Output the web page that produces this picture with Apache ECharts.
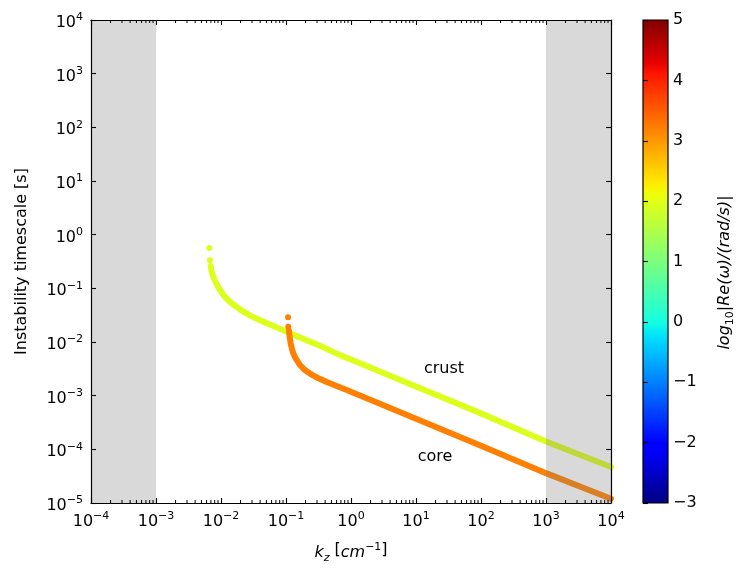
<!DOCTYPE html>
<html><head><meta charset="utf-8">
<script src="https://cdn.jsdelivr.net/npm/echarts@6/dist/echarts.min.js"></script>
<style>html,body{margin:0;padding:0;background:#fff}#c{width:748px;height:572px}</style>
</head><body><div id="c"></div>
<script>
// ---- data ----
const crustDots = [[0.00661, 0.565], [0.00677, 0.333]];
const crustCurve = [[0.00695, 0.26], [0.00710, 0.215], [0.00734, 0.185], [0.00770, 0.158], [0.00809, 0.138],
  [0.00880, 0.113], [0.00966, 0.093], [0.0108, 0.076], [0.01225, 0.064], [0.0150, 0.051], [0.0196, 0.0405],
  [0.0280, 0.031], [0.0398, 0.0255], [0.0600, 0.0205], [0.0809, 0.0177], [0.150, 0.0127], [0.333, 0.0085],
  [0.678, 0.0057], [1, 0.0047], [10, 0.00148], [100, 0.000468], [1000, 0.000140], [10000, 0.0000468]];
const coreDots = [[0.1074, 0.0289], [0.1084, 0.0193]];
const coreCurve = [[0.111, 0.01625], [0.1135, 0.0128], [0.118, 0.00946], [0.123, 0.0075], [0.1295, 0.00615],
  [0.140, 0.0050], [0.164, 0.00373], [0.195, 0.0030], [0.234, 0.00258], [0.310, 0.00213], [0.423, 0.00180],
  [0.859, 0.00128], [10, 0.000372], [100, 0.000117], [1000, 0.000036], [10000, 0.0000120]];
const crustLogOmega = 1.94;
const coreLogOmega = 3.2;
const shadedK = [[1e-4, 1e-3], [1e3, 1e4]];
const textLabels = [{ name: 'crust', value: [27, 3.1e-3] }, { name: 'core', value: [19.6, 7.2e-5] }];
const colorbarRange = [-3, 5];
const xRange = [1e-4, 1e4];
const yRange = [1e-5, 1e4];

// ---- helpers ----
function interp(pts, t) {
  for (let i = 0; i < pts.length - 1; i++) {
    if (t >= pts[i][0] && t <= pts[i + 1][0]) {
      const f = (t - pts[i][0]) / (pts[i + 1][0] - pts[i][0]);
      return pts[i][1] + f * (pts[i + 1][1] - pts[i][1]);
    }
  }
  return pts[pts.length - 1][1];
}
function jet(t) {
  const r = interp([[0, 0], [0.35, 0], [0.66, 1], [0.89, 1], [1, 0.5]], t);
  const g = interp([[0, 0], [0.125, 0], [0.375, 1], [0.64, 1], [0.91, 0], [1, 0]], t);
  const b = interp([[0, 0.5], [0.11, 1], [0.34, 1], [0.65, 0], [1, 0]], t);
  return 'rgb(' + Math.round(r * 255) + ',' + Math.round(g * 255) + ',' + Math.round(b * 255) + ')';
}
function jetVal(v) { return jet((v - colorbarRange[0]) / (colorbarRange[1] - colorbarRange[0])); }
const crustColor = jetVal(crustLogOmega);
const coreColor = jetVal(coreLogOmega);
const gradStops = [];
for (let i = 0; i <= 64; i++) gradStops.push({ offset: i / 64, color: jet(i / 64) });

const minorTicks = [];
for (let d = -4; d < 4; d++) for (let m = 2; m <= 9; m++) minorTicks.push(m * Math.pow(10, d));

const FONT = 'DejaVu Sans';
const FS = 16, FSS = 11;
function expLabel(v) {
  const e = Math.round(Math.log10(v));
  return '{b|10}{s|' + String(e).replace('-', '\u2212') + '}';
}
const richTick = {
  b: { fontSize: FS, fontFamily: FONT, color: '#000', lineHeight: 22, verticalAlign: 'bottom' },
  s: { fontSize: FSS, fontFamily: FONT, color: '#000', lineHeight: 22, verticalAlign: 'bottom', padding: [0, 0, 8, 0] }
};
const axisCommon = {
  type: 'log', logBase: 10, z: 10,
  axisLine: { show: true, lineStyle: { color: '#000', width: 1.2 } },
  axisTick: { show: true, inside: true, length: 5, lineStyle: { color: '#000', width: 1.1 } },
  splitLine: { show: false }, minorTick: { show: false }
};

const chart = echarts.init(document.getElementById('c'), null, { renderer: 'canvas' });
chart.setOption({
  animation: false,
  backgroundColor: '#fff',
  grid: [
    { left: 91, top: 20, width: 520, height: 483 },
    { left: 643, top: 20, width: 25, height: 483 }
  ],
  xAxis: [
    Object.assign({}, axisCommon, {
      gridIndex: 0, position: 'bottom', min: xRange[0], max: xRange[1], splitNumber: 8,
      axisLabel: { formatter: expLabel, rich: richTick, margin: 5 },
      name: '{i|k}{sub|z} [{i|cm}{sup|\u22121}]', nameLocation: 'middle', nameGap: 36,
      nameTextStyle: {
        rich: {
          i: { fontSize: FS, fontFamily: FONT, fontStyle: 'italic', color: '#000', lineHeight: 22, verticalAlign: 'bottom' },
          sub: { fontSize: FSS, fontFamily: FONT, fontStyle: 'italic', color: '#000', lineHeight: 22, verticalAlign: 'bottom', padding: [0, 0, -3, 0] },
          sup: { fontSize: FSS, fontFamily: FONT, color: '#000', lineHeight: 22, verticalAlign: 'bottom', padding: [0, 0, 8, 0] }
        },
        fontSize: FS, fontFamily: FONT, color: '#000'
      }
    }),
    Object.assign({}, axisCommon, {
      gridIndex: 0, position: 'top', min: xRange[0], max: xRange[1], splitNumber: 8,
      axisLabel: { show: false }
    }),
    { gridIndex: 1, type: 'value', min: 0, max: 1, show: false }
  ],
  yAxis: [
    Object.assign({}, axisCommon, {
      gridIndex: 0, position: 'left', min: yRange[0], max: yRange[1], splitNumber: 9,
      axisLabel: { formatter: expLabel, rich: richTick, margin: 8 },
      name: 'Instability timescale [s]', nameLocation: 'middle', nameGap: 61, nameRotate: 90,
      nameTextStyle: { fontSize: FS, fontFamily: FONT, color: '#000' }
    }),
    Object.assign({}, axisCommon, {
      gridIndex: 0, position: 'right', min: yRange[0], max: yRange[1], splitNumber: 9,
      axisLabel: { show: false }
    }),
    {
      gridIndex: 1, type: 'value', position: 'right', min: colorbarRange[0], max: colorbarRange[1], interval: 1, z: 10,
      axisLine: { show: false },
      axisTick: { show: true, inside: false, length: 5, lineStyle: { color: '#000', width: 1.1 } },
      splitLine: { show: false },
      axisLabel: {
        margin: 5, fontSize: FS, fontFamily: FONT, color: '#000',
        formatter: v => String(v).replace('-', '\u2212')
      },
      name: '{i|log}{sub|10}{i||Re(\u03c9)/(rad/s)|}', nameLocation: 'middle', nameGap: 43, nameRotate: 90,
      nameTextStyle: {
        padding: [0, 22, 0, 0],
        rich: {
          i: { fontSize: FS, fontFamily: FONT, fontStyle: 'italic', color: '#000', lineHeight: 22, verticalAlign: 'bottom' },
          sub: { fontSize: FSS, fontFamily: FONT, color: '#000', lineHeight: 22, verticalAlign: 'bottom', padding: [0, 0, -3, 0] }
        }
      }
    }
  ],
  series: [
    {
      type: 'line', xAxisIndex: 0, yAxisIndex: 0, data: crustCurve, showSymbol: false, symbol: 'none',
      smooth: false, z: 2,
      lineStyle: { color: crustColor, width: 6, cap: 'round', join: 'round' }
    },
    {
      type: 'line', xAxisIndex: 0, yAxisIndex: 0, data: coreCurve, showSymbol: false, symbol: 'none',
      smooth: false, z: 3,
      lineStyle: { color: coreColor, width: 6, cap: 'round', join: 'round' }
    },
    { type: 'scatter', xAxisIndex: 0, yAxisIndex: 0, data: crustDots, symbolSize: 6, itemStyle: { color: crustColor, opacity: 1 }, z: 2 },
    { type: 'scatter', xAxisIndex: 0, yAxisIndex: 0, data: coreDots, symbolSize: 6, itemStyle: { color: coreColor, opacity: 1 }, z: 3 },
    {
      type: 'custom', xAxisIndex: 0, yAxisIndex: 0, data: shadedK, z: 5, silent: true,
      encode: { x: [0, 1] },
      renderItem: function (params, api) {
        const p0 = api.coord([api.value(0), yRange[1]]);
        const p1 = api.coord([api.value(1), yRange[0]]);
        return { type: 'rect', shape: { x: p0[0], y: p0[1], width: p1[0] - p0[0], height: p1[1] - p0[1] },
          style: { fill: 'rgba(128,128,128,0.3)' } };
      }
    },
    {
      type: 'custom', xAxisIndex: 0, yAxisIndex: 0, data: minorTicks.map(v => [v]), z: 6, silent: true,
      encode: { x: 0 },
      renderItem: function (params, api) {
        const b = api.coord([api.value(0), yRange[0]]);
        const t = api.coord([api.value(0), yRange[1]]);
        const st = { stroke: '#000', lineWidth: 1 };
        return { type: 'group', children: [
          { type: 'line', shape: { x1: b[0], y1: b[1], x2: b[0], y2: b[1] - 3 }, style: st },
          { type: 'line', shape: { x1: t[0], y1: t[1], x2: t[0], y2: t[1] + 3 }, style: st }
        ] };
      }
    },
    {
      type: 'scatter', xAxisIndex: 0, yAxisIndex: 0, data: textLabels, symbolSize: 1, z: 7, silent: true,
      itemStyle: { color: 'rgba(0,0,0,0)', opacity: 1 },
      label: { show: true, position: 'inside', formatter: '{b}', fontSize: FS, fontFamily: FONT, color: '#000', opacity: 1, textBorderWidth: 0 }
    },
    {
      type: 'custom', xAxisIndex: 2, yAxisIndex: 2, data: [[0, colorbarRange[0], 1, colorbarRange[1]]], z: 2, silent: true,
      encode: { x: [0, 2], y: [1, 3] },
      renderItem: function (params, api) {
        const p0 = api.coord([api.value(0), api.value(3)]);
        const p1 = api.coord([api.value(2), api.value(1)]);
        return { type: 'rect', shape: { x: p0[0], y: p0[1], width: p1[0] - p0[0], height: p1[1] - p0[1] },
          style: { fill: new echarts.graphic.LinearGradient(0, 1, 0, 0, gradStops), stroke: '#000', lineWidth: 1.2 } };
      }
    }
  ]
});
</script></body></html>
